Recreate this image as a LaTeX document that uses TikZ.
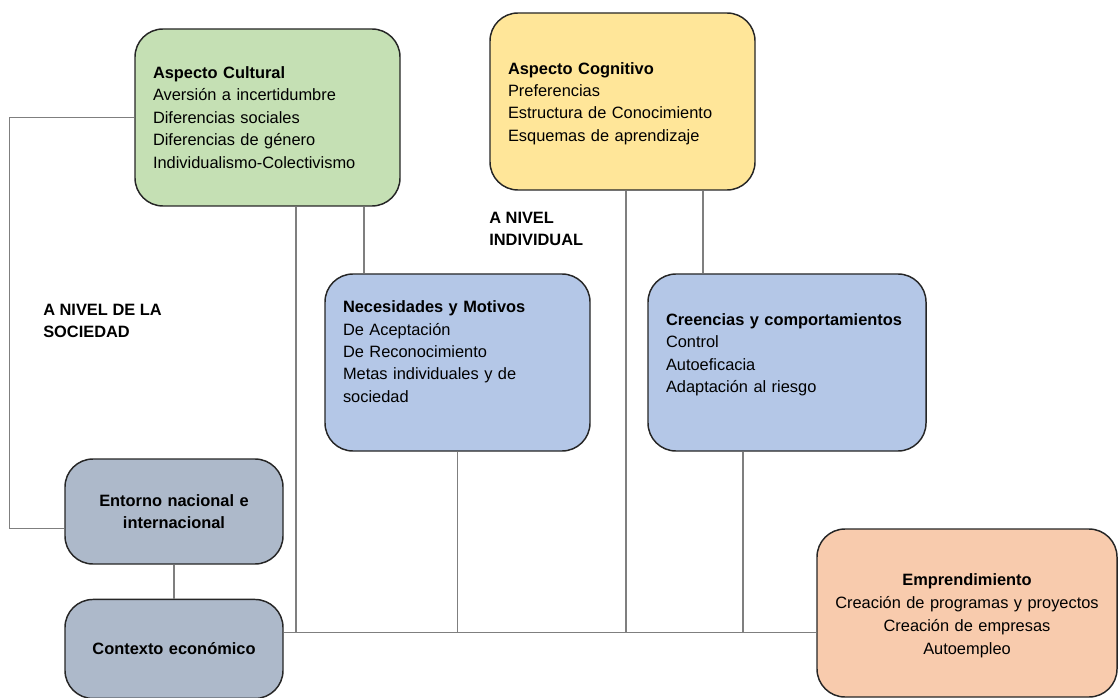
\documentclass[tikz,border=0pt]{standalone}
\usepackage{fontspec}
\setmainfont{Liberation Sans}
\usetikzlibrary{positioning}
\definecolor{cultgreen}{HTML}{C5E0B4}
\definecolor{cogyellow}{HTML}{FFE699}
\definecolor{indblue}{HTML}{B4C7E7}
\definecolor{socgrey}{HTML}{ADB9CA}
\definecolor{emporange}{HTML}{F8CBAD}
\definecolor{boxline}{HTML}{262626}
\definecolor{linkgrey}{HTML}{7F7F7F}

\begin{document}
\begin{tikzpicture}[x=0.75pt, y=-0.75pt,
        box/.style={draw=boxline, line width=1.1pt, rounded corners=21pt,
                    minimum width=198.75pt, minimum height=132.75pt,
                    text width=171.75pt, inner xsep=13.5pt, align=left,
                    font=\fontsize{12.3}{16.8}\selectfont},
        smallbox/.style={box, minimum width=163.5pt, minimum height=78.75pt,
                    text width=136.5pt, align=center,
                    font=\fontsize{12.3}{16.5}\selectfont\bfseries},
        level/.style={inner sep=0pt, align=left,
                    font=\fontsize{12.3}{16.8}\selectfont\bfseries},
        link/.style={draw=linkgrey, line width=0.8pt}
    ]
        \useasboundingbox (0,0) rectangle (1119,698);
        \node[box, fill=cultgreen] (cult) at (267.5,117.5) {\textbf{Aspecto Cultural}\\Aversión a incertidumbre\\Diferencias sociales\\Diferencias de género\\Individualismo-Colectivismo};
        \node[box, fill=cogyellow] (cog) at (622.5,101.5) {\rule{0pt}{12pt}\textbf{Aspecto Cognitivo}\\Preferencias\\Estructura de Conocimiento\\Esquemas de aprendizaje};
        \node[box, fill=indblue] (nec) at (457.5,362.5) {\textbf{Necesidades y Motivos}\\De Aceptación\\De Reconocimiento\\Metas individuales y de\\sociedad\rule[-16.5pt]{0pt}{0pt}};
        \node[box, fill=indblue, minimum width=208.5pt, text width=181.5pt] (cre) at (787,362.5) {\textbf{Creencias y comportamientos}\\Control\\Autoeficacia\\Adaptación al riesgo\rule[-14pt]{0pt}{0pt}};
        \node[smallbox, fill=socgrey] (ent) at (174,511.5) {Entorno nacional e\\internacional};
        \node[smallbox, fill=socgrey, minimum height=74.25pt, below=25.5pt of ent] (ctx) {Contexto económico};
        \node[box, fill=emporange, minimum width=225pt, minimum height=126pt, text width=198pt, align=center,
              font=\fontsize{12.3}{17.25}\selectfont] (emp) at (967,613) {\rule{0pt}{13pt}\textbf{Emprendimiento}\\Creación de programas y proyectos\\Creación de empresas\\Autoempleo};
        \node[level, anchor=north west] (soc) at (43,304) {A NIVEL DE LA\\SOCIEDAD};
        \node[level, anchor=north west] (ind) at (489,212) {A NIVEL\\INDIVIDUAL};
        \coordinate (bus) at ([yshift=12.4pt]ctx.east);
        \draw[link] (cult.west) -- ++(-125,0) |- ([yshift=-12.4pt]ent.west);
        \draw[link] (ent) -- (ctx);
        \draw[link] (bus) -- (bus -| emp.west);
        \draw[link] (cult.south -| 296,0) -- (bus -| 296,0);
        \draw[link] (cult.south -| 364,0) -- (nec.north -| 364,0);
        \draw[link] (nec.south) -- (bus -| nec.south);
        \draw[link] (cog.south -| 626,0) -- (bus -| 626,0);
        \draw[link] (cog.south -| 703,0) -- (cre.north -| 703,0);
        \draw[link] (cre.south -| 743,0) -- (bus -| 743,0);
    \end{tikzpicture}
\end{document}
